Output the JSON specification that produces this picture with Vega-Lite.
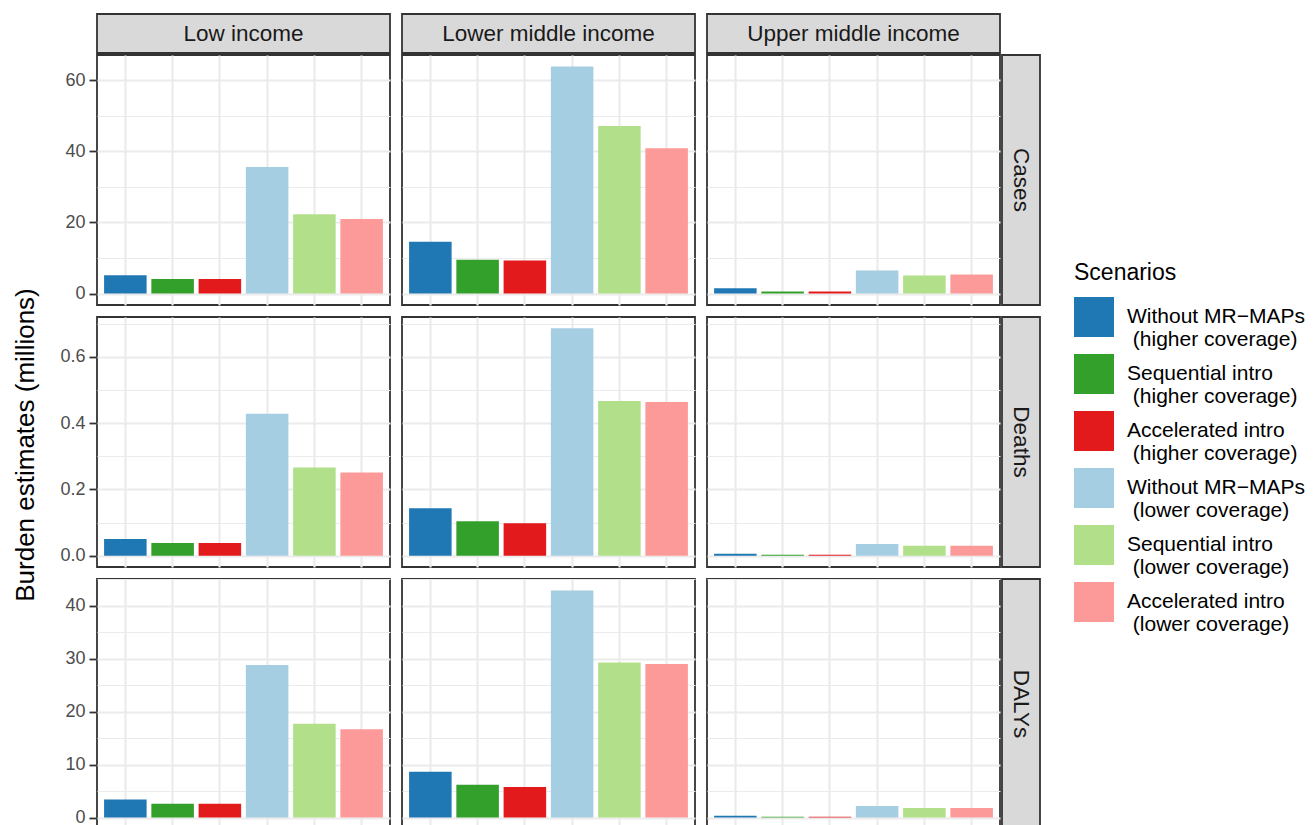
{
  "$schema": "https://vega.github.io/schema/vega-lite/v6.json",
  "background": "white",
  "padding": {"left": 12, "top": 13, "right": 0, "bottom": 0},
  "datasets": {
    "burden": [
      {"income": "Low income", "metric": "Cases", "scenario": "Without MR−MAPs (higher coverage)", "value": 5.2},
      {"income": "Low income", "metric": "Cases", "scenario": "Sequential intro (higher coverage)", "value": 4.1},
      {"income": "Low income", "metric": "Cases", "scenario": "Accelerated intro (higher coverage)", "value": 4.1},
      {"income": "Low income", "metric": "Cases", "scenario": "Without MR−MAPs (lower coverage)", "value": 35.6},
      {"income": "Low income", "metric": "Cases", "scenario": "Sequential intro (lower coverage)", "value": 22.3},
      {"income": "Low income", "metric": "Cases", "scenario": "Accelerated intro (lower coverage)", "value": 21.0},
      {"income": "Lower middle income", "metric": "Cases", "scenario": "Without MR−MAPs (higher coverage)", "value": 14.6},
      {"income": "Lower middle income", "metric": "Cases", "scenario": "Sequential intro (higher coverage)", "value": 9.5},
      {"income": "Lower middle income", "metric": "Cases", "scenario": "Accelerated intro (higher coverage)", "value": 9.3},
      {"income": "Lower middle income", "metric": "Cases", "scenario": "Without MR−MAPs (lower coverage)", "value": 63.9},
      {"income": "Lower middle income", "metric": "Cases", "scenario": "Sequential intro (lower coverage)", "value": 47.1},
      {"income": "Lower middle income", "metric": "Cases", "scenario": "Accelerated intro (lower coverage)", "value": 40.9},
      {"income": "Upper middle income", "metric": "Cases", "scenario": "Without MR−MAPs (higher coverage)", "value": 1.5},
      {"income": "Upper middle income", "metric": "Cases", "scenario": "Sequential intro (higher coverage)", "value": 0.6},
      {"income": "Upper middle income", "metric": "Cases", "scenario": "Accelerated intro (higher coverage)", "value": 0.6},
      {"income": "Upper middle income", "metric": "Cases", "scenario": "Without MR−MAPs (lower coverage)", "value": 6.5},
      {"income": "Upper middle income", "metric": "Cases", "scenario": "Sequential intro (lower coverage)", "value": 5.1},
      {"income": "Upper middle income", "metric": "Cases", "scenario": "Accelerated intro (lower coverage)", "value": 5.4},
      {"income": "Low income", "metric": "Deaths", "scenario": "Without MR−MAPs (higher coverage)", "value": 0.050},
      {"income": "Low income", "metric": "Deaths", "scenario": "Sequential intro (higher coverage)", "value": 0.038},
      {"income": "Low income", "metric": "Deaths", "scenario": "Accelerated intro (higher coverage)", "value": 0.038},
      {"income": "Low income", "metric": "Deaths", "scenario": "Without MR−MAPs (lower coverage)", "value": 0.428},
      {"income": "Low income", "metric": "Deaths", "scenario": "Sequential intro (lower coverage)", "value": 0.266},
      {"income": "Low income", "metric": "Deaths", "scenario": "Accelerated intro (lower coverage)", "value": 0.251},
      {"income": "Lower middle income", "metric": "Deaths", "scenario": "Without MR−MAPs (higher coverage)", "value": 0.143},
      {"income": "Lower middle income", "metric": "Deaths", "scenario": "Sequential intro (higher coverage)", "value": 0.104},
      {"income": "Lower middle income", "metric": "Deaths", "scenario": "Accelerated intro (higher coverage)", "value": 0.098},
      {"income": "Lower middle income", "metric": "Deaths", "scenario": "Without MR−MAPs (lower coverage)", "value": 0.686},
      {"income": "Lower middle income", "metric": "Deaths", "scenario": "Sequential intro (lower coverage)", "value": 0.467},
      {"income": "Lower middle income", "metric": "Deaths", "scenario": "Accelerated intro (lower coverage)", "value": 0.464},
      {"income": "Upper middle income", "metric": "Deaths", "scenario": "Without MR−MAPs (higher coverage)", "value": 0.006},
      {"income": "Upper middle income", "metric": "Deaths", "scenario": "Sequential intro (higher coverage)", "value": 0.003},
      {"income": "Upper middle income", "metric": "Deaths", "scenario": "Accelerated intro (higher coverage)", "value": 0.003},
      {"income": "Upper middle income", "metric": "Deaths", "scenario": "Without MR−MAPs (lower coverage)", "value": 0.035},
      {"income": "Upper middle income", "metric": "Deaths", "scenario": "Sequential intro (lower coverage)", "value": 0.030},
      {"income": "Upper middle income", "metric": "Deaths", "scenario": "Accelerated intro (lower coverage)", "value": 0.030},
      {"income": "Low income", "metric": "DALYs", "scenario": "Without MR−MAPs (higher coverage)", "value": 3.4},
      {"income": "Low income", "metric": "DALYs", "scenario": "Sequential intro (higher coverage)", "value": 2.6},
      {"income": "Low income", "metric": "DALYs", "scenario": "Accelerated intro (higher coverage)", "value": 2.6},
      {"income": "Low income", "metric": "DALYs", "scenario": "Without MR−MAPs (lower coverage)", "value": 28.8},
      {"income": "Low income", "metric": "DALYs", "scenario": "Sequential intro (lower coverage)", "value": 17.7},
      {"income": "Low income", "metric": "DALYs", "scenario": "Accelerated intro (lower coverage)", "value": 16.7},
      {"income": "Lower middle income", "metric": "DALYs", "scenario": "Without MR−MAPs (higher coverage)", "value": 8.65},
      {"income": "Lower middle income", "metric": "DALYs", "scenario": "Sequential intro (higher coverage)", "value": 6.2},
      {"income": "Lower middle income", "metric": "DALYs", "scenario": "Accelerated intro (higher coverage)", "value": 5.8},
      {"income": "Lower middle income", "metric": "DALYs", "scenario": "Without MR−MAPs (lower coverage)", "value": 42.9},
      {"income": "Lower middle income", "metric": "DALYs", "scenario": "Sequential intro (lower coverage)", "value": 29.3},
      {"income": "Lower middle income", "metric": "DALYs", "scenario": "Accelerated intro (lower coverage)", "value": 29.0},
      {"income": "Upper middle income", "metric": "DALYs", "scenario": "Without MR−MAPs (higher coverage)", "value": 0.33},
      {"income": "Upper middle income", "metric": "DALYs", "scenario": "Sequential intro (higher coverage)", "value": 0.15},
      {"income": "Upper middle income", "metric": "DALYs", "scenario": "Accelerated intro (higher coverage)", "value": 0.15},
      {"income": "Upper middle income", "metric": "DALYs", "scenario": "Without MR−MAPs (lower coverage)", "value": 2.2},
      {"income": "Upper middle income", "metric": "DALYs", "scenario": "Sequential intro (lower coverage)", "value": 1.8},
      {"income": "Upper middle income", "metric": "DALYs", "scenario": "Accelerated intro (lower coverage)", "value": 1.8}
    ]
  },
  "config": {
    "font": "Liberation Sans",
    "view": {"stroke": "#333333", "strokeWidth": 1.8},
    "axis": {
      "labelFont": "Liberation Sans",
      "labelFontSize": 18,
      "labelColor": "#4D4D4D",
      "labelPadding": 4,
      "tickColor": "#333333",
      "tickWidth": 1.8,
      "tickSize": 7,
      "domain": false,
      "gridColor": "#EBEBEB"
    },
    "axisX": {"minExtent": 0, "maxExtent": 0, "offset": 0, "labelPadding": 0, "titlePadding": 0},
    "legend": {
      "orient": "none",
      "legendX": 1061,
      "legendY": 248,
      "padding": 0,
      "titleFont": "Liberation Sans",
      "titleFontSize": 23,
      "titleFontWeight": "normal",
      "titleColor": "#000000",
      "titlePadding": 12,
      "labelFont": "Liberation Sans",
      "labelFontSize": 21,
      "labelColor": "#000000",
      "labelLimit": 400,
      "labelOffset": 13,
      "symbolType": "square",
      "symbolSize": 1600,
      "symbolStrokeWidth": 0,
      "symbolOpacity": 1,
      "rowPadding": 4
    }
  },
  "spacing": 20,
  "hconcat": [
    {
      "data": {"values": [{"label": "Burden estimates (millions)"}]},
      "width": 26,
      "height": 862,
      "view": {"stroke": null, "fill": null},
      "mark": {"type": "text", "angle": 270, "fontSize": 26, "color": "#000000", "align": "center", "baseline": "middle"},
      "encoding": {"text": {"field": "label", "type": "nominal"}}
    },
    {
      "spacing": 0,
      "vconcat": [
        {
          "data": {"name": "burden"},
          "transform": [{"aggregate": [{"op": "count", "as": "n"}], "groupby": ["income"]}],
          "facet": {
            "column": {"field": "income", "type": "nominal", "header": null,
              "sort": ["Low income", "Lower middle income", "Upper middle income"]}
          },
          "spacing": 10,
          "spec": {
            "width": 293,
            "height": 39,
            "view": {"fill": "#D9D9D9", "stroke": "#333333", "strokeWidth": 1.8},
            "mark": {"type": "text", "fontSize": 22.5, "color": "#1A1A1A", "align": "center", "baseline": "middle"},
            "encoding": {"text": {"field": "income", "type": "nominal"}}
          }
        },
        {
          "spacing": 10,
          "resolve": {"scale": {"x": "independent", "y": "independent"}},
          "vconcat": [
            {
              "spacing": 0,
              "resolve": {"scale": {"x": "independent", "y": "independent"}},
              "hconcat": [
                {
                  "data": {"name": "burden"},
                  "transform": [{"filter": "datum.metric == 'Cases'"}],
                  "facet": {
                    "column": {"field": "income", "type": "nominal", "header": null,
                      "sort": ["Low income", "Lower middle income", "Upper middle income"]}
                  },
                  "spacing": 10,
                  "spec": {
                    "width": 293,
                    "height": 250,
                    "mark": {"type": "bar"},
                    "encoding": {
                      "x": {"field": "scenario", "type": "nominal",
                        "sort": ["Without MR−MAPs (higher coverage)", "Sequential intro (higher coverage)", "Accelerated intro (higher coverage)", "Without MR−MAPs (lower coverage)", "Sequential intro (lower coverage)", "Accelerated intro (lower coverage)"],
                        "scale": {"paddingInner": 0.1, "paddingOuter": 0.15},
                        "axis": {"labels": false, "ticks": false, "title": null, "grid": true, "bandPosition": 0.5, "gridWidth": 2.2}},
                      "y": {"field": "value", "type": "quantitative",
                        "scale": {"domain": [-3.2, 67.1], "nice": false, "zero": false},
                        "axis": {"title": null, "values": [0, 10, 20, 30, 40, 50, 60],
                          "labelExpr": "datum.value % 20 == 0 ? datum.label : ''",
                          "tickOpacity": {"condition": {"test": "datum.value % 20 == 0", "value": 1}, "value": 0},
                          "gridWidth": {"condition": {"test": "datum.value % 20 == 0", "value": 2.2}, "value": 1.1}}},
                      "y2": {"datum": 0},
                      "color": {"field": "scenario", "type": "nominal", "title": "Scenarios",
                        "scale": {
                          "domain": ["Without MR−MAPs (higher coverage)", "Sequential intro (higher coverage)", "Accelerated intro (higher coverage)", "Without MR−MAPs (lower coverage)", "Sequential intro (lower coverage)", "Accelerated intro (lower coverage)"],
                          "range": ["#1F78B4", "#33A02C", "#E31A1C", "#A6CEE3", "#B2DF8A", "#FB9A99"]},
                        "legend": {"labelExpr": "[split(datum.label, ' (')[0], '\u200b\u00a0(' + split(datum.label, ' (')[1]]"}}
                    }
                  }
                },
                {
                  "data": {"name": "burden"},
                  "transform": [{"filter": "datum.metric == 'Cases'"}, {"aggregate": [{"op": "count", "as": "n"}], "groupby": ["metric"]}],
                  "width": 38,
                  "height": 250,
                  "view": {"fill": "#D9D9D9", "stroke": "#333333", "strokeWidth": 1.8},
                  "mark": {"type": "text", "angle": 90, "fontSize": 22.5, "color": "#1A1A1A", "align": "center", "baseline": "middle"},
                  "encoding": {"text": {"field": "metric", "type": "nominal"}}
                }
              ]
            },
            {
              "spacing": 0,
              "resolve": {"scale": {"x": "independent", "y": "independent"}},
              "hconcat": [
                {
                  "data": {"name": "burden"},
                  "transform": [{"filter": "datum.metric == 'Deaths'"}],
                  "facet": {
                    "column": {"field": "income", "type": "nominal", "header": null,
                      "sort": ["Low income", "Lower middle income", "Upper middle income"]}
                  },
                  "spacing": 10,
                  "spec": {
                    "width": 293,
                    "height": 250,
                    "mark": {"type": "bar"},
                    "encoding": {
                      "x": {"field": "scenario", "type": "nominal",
                        "sort": ["Without MR−MAPs (higher coverage)", "Sequential intro (higher coverage)", "Accelerated intro (higher coverage)", "Without MR−MAPs (lower coverage)", "Sequential intro (lower coverage)", "Accelerated intro (lower coverage)"],
                        "scale": {"paddingInner": 0.1, "paddingOuter": 0.15},
                        "axis": {"labels": false, "ticks": false, "title": null, "grid": true, "bandPosition": 0.5, "gridWidth": 2.2}},
                      "y": {"field": "value", "type": "quantitative",
                        "scale": {"domain": [-0.0343, 0.7203], "nice": false, "zero": false},
                        "axis": {"title": null,
                          "values": [0, 0.1, 0.2, 0.3, 0.4, 0.5, 0.6, 0.7],
                          "labelExpr": "round(datum.value * 10) % 2 == 0 ? format(datum.value, '.1f') : ''",
                          "tickOpacity": {"condition": {"test": "round(datum.value * 10) % 2 == 0", "value": 1}, "value": 0},
                          "gridWidth": {"condition": {"test": "round(datum.value * 10) % 2 == 0", "value": 2.2}, "value": 1.1}}},
                      "y2": {"datum": 0},
                      "color": {"field": "scenario", "type": "nominal", "title": "Scenarios",
                        "scale": {
                          "domain": ["Without MR−MAPs (higher coverage)", "Sequential intro (higher coverage)", "Accelerated intro (higher coverage)", "Without MR−MAPs (lower coverage)", "Sequential intro (lower coverage)", "Accelerated intro (lower coverage)"],
                          "range": ["#1F78B4", "#33A02C", "#E31A1C", "#A6CEE3", "#B2DF8A", "#FB9A99"]},
                        "legend": {"labelExpr": "[split(datum.label, ' (')[0], '\u200b\u00a0(' + split(datum.label, ' (')[1]]"}}
                    }
                  }
                },
                {
                  "data": {"name": "burden"},
                  "transform": [{"filter": "datum.metric == 'Deaths'"}, {"aggregate": [{"op": "count", "as": "n"}], "groupby": ["metric"]}],
                  "width": 38,
                  "height": 250,
                  "view": {"fill": "#D9D9D9", "stroke": "#333333", "strokeWidth": 1.8},
                  "mark": {"type": "text", "angle": 90, "fontSize": 22.5, "color": "#1A1A1A", "align": "center", "baseline": "middle"},
                  "encoding": {"text": {"field": "metric", "type": "nominal"}}
                }
              ]
            },
            {
              "spacing": 0,
              "resolve": {"scale": {"x": "independent", "y": "independent"}},
              "hconcat": [
                {
                  "data": {"name": "burden"},
                  "transform": [{"filter": "datum.metric == 'DALYs'"}],
                  "facet": {
                    "column": {"field": "income", "type": "nominal", "header": null,
                      "sort": ["Low income", "Lower middle income", "Upper middle income"]}
                  },
                  "spacing": 10,
                  "spec": {
                    "width": 293,
                    "height": 250,
                    "mark": {"type": "bar"},
                    "encoding": {
                      "x": {"field": "scenario", "type": "nominal",
                        "sort": ["Without MR−MAPs (higher coverage)", "Sequential intro (higher coverage)", "Accelerated intro (higher coverage)", "Without MR−MAPs (lower coverage)", "Sequential intro (lower coverage)", "Accelerated intro (lower coverage)"],
                        "scale": {"paddingInner": 0.1, "paddingOuter": 0.15},
                        "axis": {"labels": false, "ticks": true, "title": null, "grid": true, "bandPosition": 0.5, "gridWidth": 2.2}},
                      "y": {"field": "value", "type": "quantitative",
                        "scale": {"domain": [-2.15, 45.05], "nice": false, "zero": false},
                        "axis": {"title": null, "values": [0, 5, 10, 15, 20, 25, 30, 35, 40, 45],
                          "labelExpr": "datum.value % 10 == 0 ? datum.label : ''",
                          "tickOpacity": {"condition": {"test": "datum.value % 10 == 0", "value": 1}, "value": 0},
                          "gridWidth": {"condition": {"test": "datum.value % 10 == 0", "value": 2.2}, "value": 1.1}}},
                      "y2": {"datum": 0},
                      "color": {"field": "scenario", "type": "nominal", "title": "Scenarios",
                        "scale": {
                          "domain": ["Without MR−MAPs (higher coverage)", "Sequential intro (higher coverage)", "Accelerated intro (higher coverage)", "Without MR−MAPs (lower coverage)", "Sequential intro (lower coverage)", "Accelerated intro (lower coverage)"],
                          "range": ["#1F78B4", "#33A02C", "#E31A1C", "#A6CEE3", "#B2DF8A", "#FB9A99"]},
                        "legend": {"labelExpr": "[split(datum.label, ' (')[0], '\u200b\u00a0(' + split(datum.label, ' (')[1]]"}}
                    }
                  }
                },
                {
                  "data": {"name": "burden"},
                  "transform": [{"filter": "datum.metric == 'DALYs'"}, {"aggregate": [{"op": "count", "as": "n"}], "groupby": ["metric"]}],
                  "width": 38,
                  "height": 250,
                  "view": {"fill": "#D9D9D9", "stroke": "#333333", "strokeWidth": 1.8},
                  "mark": {"type": "text", "angle": 90, "fontSize": 22.5, "color": "#1A1A1A", "align": "center", "baseline": "middle"},
                  "encoding": {"text": {"field": "metric", "type": "nominal"}}
                }
              ]
            }
          ]
        }
      ]
    }
  ]
}
